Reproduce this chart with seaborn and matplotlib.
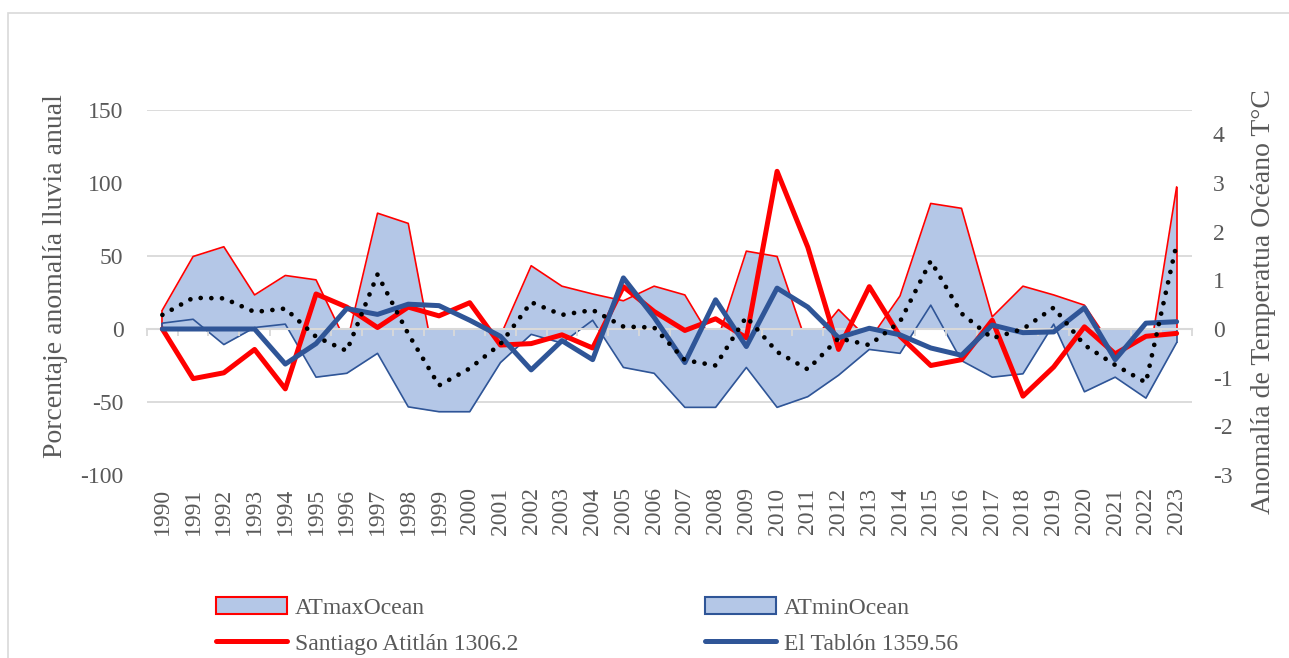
import numpy as np
import pandas as pd
import seaborn as sns
import matplotlib.pyplot as plt
from matplotlib.patches import Patch, Rectangle
from matplotlib.lines import Line2D
from matplotlib.ticker import MultipleLocator

# ---- data ----
years = list(range(1990, 2024))

# temperature anomalies (right axis, °C)
at_max = [0.39, 1.49, 1.69, 0.70, 1.10, 1.01, -0.30, 2.38, 2.17, -1.17,
          -1.00, -0.14, 1.30, 0.88, 0.72, 0.58, 0.88, 0.70, -0.35, 1.60,
          1.49, -0.37, 0.40, -0.23, 0.68, 2.58, 2.48, 0.25, 0.88, 0.70,
          0.49, -0.45, -1.03, 2.92]
at_min = [0.12, 0.20, -0.32, 0.03, 0.10, -0.99, -0.91, -0.50, -1.60, -1.70,
          -1.70, -0.69, -0.11, -0.29, 0.18, -0.79, -0.91, -1.61, -1.61, -0.79,
          -1.61, -1.39, -0.95, -0.42, -0.50, 0.49, -0.65, -0.99, -0.92, 0.10,
          -1.29, -0.99, -1.42, -0.28]
at_mean = [0.29, 0.64, 0.63, 0.35, 0.42, -0.16, -0.45, 1.12, -0.10, -1.16,
           -0.81, -0.31, 0.55, 0.29, 0.39, 0.05, 0.03, -0.64, -0.75, 0.25,
           -0.47, -0.83, -0.19, -0.33, 0.15, 1.40, 0.32, -0.19, 0.00, 0.44,
           -0.33, -0.74, -1.10, 1.75]

# rainfall anomaly (left axis, %)
santiago = [0, -34, -30, -14, -41, 24, 15, 1, 15, 9,
            18, -11, -10, -4, -13, 29, 12, -1, 7, -6,
            108, 56, -14, 29, -5, -25, -21, 6, -46, -26,
            1.5, -17, -5, -3]
tablon = [0, 0, 0, 0, -24, -10, 14, 10, 17, 16,
          6, -5, -28, -8, -21, 35, 8, -23, 20, -12,
          28, 15, -6, 0.5, -4, -13, -18, 2.7, -2.5, -2,
          14.5, -21, 4, 5]

labels = ["ATmaxOcean", "ATminOcean", "Santiago Atitlán 1306.2", "El Tablón 1359.56"]

df = pd.DataFrame({"year": years, "at_max": at_max, "at_min": at_min,
                   "at_mean": at_mean, "santiago": santiago, "tablon": tablon})

RED = "#FF0000"
BLUE = "#2F5597"
FILL = "#B4C7E7"
GRID = "#D9D9D9"
TXT = "#595959"

sns.set_theme(style="white")
plt.rcParams["font.family"] = ["Liberation Serif", "DejaVu Serif"]
plt.rcParams["axes.unicode_minus"] = False

fig = plt.figure(figsize=(12.89, 6.58), dpi=100, facecolor="white")
ax = fig.add_axes([147 / 1289, 1 - 475 / 658, 1045 / 1289, 365 / 658])
ax_t = ax.twinx()   # areas, right axis
ax_d = ax.twinx()   # dotted line, same scale as right axis
ax_t.set_zorder(0)
ax.set_zorder(1)
ax_d.set_zorder(2)
ax.patch.set_visible(False)

# areas (right axis)
ax_t.fill_between(df["year"], 0, df["at_max"], color=FILL, lw=0, zorder=1)
ax_t.plot(df["year"], df["at_max"], color=RED, lw=1.2, zorder=1.1)
ax_t.vlines([years[0], years[-1]], 0, [at_max[0], at_max[-1]], color=RED, lw=1.2, zorder=1.1)
ax_t.fill_between(df["year"], 0, df["at_min"], color=FILL, lw=0, zorder=1.2)
ax_t.plot(df["year"], df["at_min"], color=BLUE, lw=1.2, zorder=1.3)
ax_t.vlines([years[0], years[-1]], 0, [at_min[0], at_min[-1]], color=BLUE, lw=1.2, zorder=1.3)

# rainfall lines (left axis)
sns.lineplot(data=df, x="year", y="santiago", ax=ax, color=RED, lw=3.6,
             legend=False, solid_joinstyle="round", solid_capstyle="round")
sns.lineplot(data=df, x="year", y="tablon", ax=ax, color=BLUE, lw=3.6,
             legend=False, solid_joinstyle="round", solid_capstyle="round")

# dotted temperature line
sns.lineplot(data=df, x="year", y="at_mean", ax=ax_d, color="black", lw=3.4,
             legend=False, linestyle=(0, (0.01, 2.25)), dash_capstyle="round")

# axes limits / ticks
y_min, y_max = -100, 150
t_min, t_max = -3, 4.5
ax.set_xlim(years[0] - 0.5, years[-1] + 0.5)
ax.set_ylim(y_min, y_max)
ax.set_yticks(range(-100, 151, 50))
ax_t.set_ylim(t_min, t_max)
ax_d.set_ylim(t_min, t_max)
ax_t.set_yticks(range(-3, 5))
ax_d.yaxis.set_visible(False)

# gridlines under the areas
ax_t.yaxis.set_minor_locator(MultipleLocator(1.5))
ax_t.grid(False)
ax_t.grid(which="minor", axis="y", color=GRID, lw=1.3)
ax.grid(False)
ax_d.grid(False)

ax.set_xticks(years)
ax.set_xticklabels([str(y) for y in years], rotation=90)
ax.tick_params(axis="x", length=0, pad=9, labelsize=17, labelcolor=TXT)
ax.tick_params(axis="y", length=0, pad=17, labelsize=17, labelcolor=TXT)
ax_t.tick_params(axis="y", which="both", length=0, pad=15, labelsize=17, labelcolor=TXT)

for a in (ax, ax_t, ax_d):
    for s in a.spines.values():
        s.set_visible(False)

# category axis line crossing at 0
zero_frac = (0 - y_min) / (y_max - y_min)
sec = ax.secondary_xaxis(zero_frac)
sec.set_xticks(np.append(np.array(years) - 0.5, years[-1] + 0.5))
sec.tick_params(axis="x", length=5, width=1.3, color=GRID, labelbottom=False)
sec.spines["bottom"].set_color(GRID)
sec.spines["bottom"].set_linewidth(1.5)

ax.set_xlabel("")
ax_d.set_xlabel("")
ax.set_ylabel("Porcentaje anomalía lluvia anual", fontsize=20, color=TXT)
ax.yaxis.set_label_coords(-0.088, 0.545)
ax.yaxis.label.set(va="center", ha="center")
ax_t.set_ylabel("Anomalía de Temperatua Océano T°C", fontsize=20, color=TXT, rotation=90)
ax_t.yaxis.set_label_coords(1.068, 0.474)
ax_t.yaxis.label.set(va="center", ha="center")

# legend
handles = [Patch(facecolor=FILL, edgecolor=RED, lw=1.5),
           Line2D([], [], color=RED, lw=3.6, solid_capstyle="round"),
           Patch(facecolor=FILL, edgecolor=BLUE, lw=1.5),
           Line2D([], [], color=BLUE, lw=3.6, solid_capstyle="round")]
fig.legend(handles, [labels[0], labels[2], labels[1], labels[3]], ncol=2,
           loc="upper left", bbox_to_anchor=(216 / 1289, 1 - 597 / 658),
           frameon=False, fontsize=17, labelcolor=TXT, handlelength=3.0,
           handleheight=0.7, handletextpad=0.35, columnspacing=7.9,
           labelspacing=0.62, borderpad=0, borderaxespad=0)

# chart-area border
fig.patches.append(Rectangle((8 / 1289, -0.05), 1.05, 1.05 - 13 / 658,
                             transform=fig.transFigure, fill=False,
                             ec=GRID, lw=1.2))

fig.savefig("out.png", dpi=100)
